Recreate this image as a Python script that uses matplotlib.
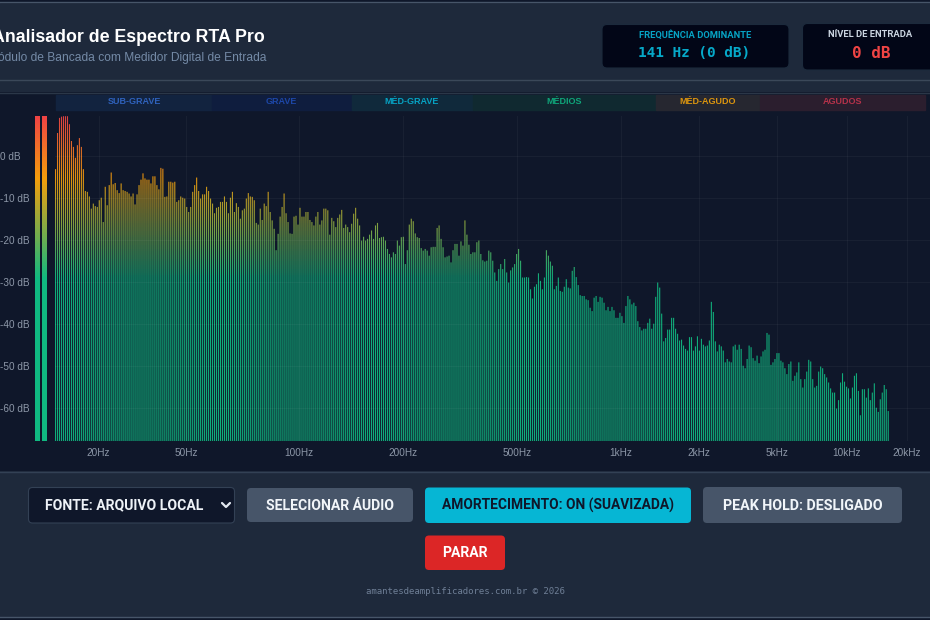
#!/usr/bin/env python3
"""Bancada RTA spectrum screen: dB bars with a vertical colour gradient."""

import matplotlib

matplotlib.use("Agg")
import matplotlib.pyplot as plt  # noqa: E402
import numpy as np  # noqa: E402
from matplotlib.collections import PolyCollection  # noqa: E402
from matplotlib.colors import LinearSegmentedColormap  # noqa: E402
from matplotlib.patches import FancyBboxPatch, Rectangle  # noqa: E402

SPECTRUM_DB = [
    -3.2, 5.4, 9.0, 9.3, 9.4, 9.4, 9.4, 7.5, 3.5, 2.1, -0.5, 2.5, 4.2, 2.1, -3.2, -8.4,
    -8.6, -9.7, -12.6, -11.4, -12.0, -12.2, -10.6, -10.0, -15.8, -7.4, -11.8, -7.0, -4.0, -6.8,
    -6.5, -8.2, -8.9, -6.6, -8.2, -8.4, -8.6, -9.0, -9.7, -9.0, -11.6, -9.2, -7.0, -5.7, -4.2,
    -5.4, -5.7, -5.7, -6.6, -4.9, -4.9, -7.0, -8.0, -2.9, -3.1, -9.8, -9.7, -6.2, -6.2, -6.4,
    -6.2, -11.0, -10.6, -9.7, -10.0, -10.2, -12.2, -13.4, -12.2, -8.6, -7.0, -5.2, -8.4, -10.2,
    -9.2, -9.2, -7.4, -8.4, -10.2, -11.4, -13.7, -12.4, -12.2, -11.0, -11.0, -9.7, -11.0, -13.7,
    -10.0, -8.6, -13.4, -11.3, -12.2, -15.0, -13.0, -12.6, -10.2, -8.9, -9.7, -9.8, -10.6, -16.0,
    -16.4, -12.6, -15.3, -11.4, -12.0, -8.6, -13.4, -15.4, -17.4, -22.5, -18.6, -14.5, -12.2,
    -9.0, -13.7, -15.8, -18.5, -18.6, -14.5, -14.3, -16.4, -12.4, -14.5, -14.5, -13.4, -13.4,
    -15.3, -15.8, -16.6, -14.5, -13.4, -16.4, -15.4, -12.6, -12.6, -13.0, -18.8, -14.8, -15.6,
    -17.0, -14.8, -14.0, -12.9, -17.2, -16.4, -17.0, -18.2, -16.2, -13.8, -12.4, -15.0, -16.6,
    -20.2, -19.3, -20.2, -19.8, -18.8, -17.8, -19.8, -16.6, -16.0, -19.6, -19.4, -19.3, -20.2,
    -22.2, -23.4, -24.2, -23.0, -23.4, -20.2, -21.4, -19.4, -19.3, -25.8, -22.5, -16.4, -15.0,
    -15.6, -18.5, -19.4, -19.6, -22.0, -22.6, -22.2, -22.6, -23.8, -21.8, -21.7, -21.7, -17.2,
    -16.6, -19.8, -21.8, -24.2, -24.0, -23.8, -25.4, -22.5, -21.0, -21.0, -23.8, -20.4, -21.4,
    -15.4, -18.8, -21.2, -23.4, -23.0, -23.0, -20.6, -20.2, -23.4, -24.9, -25.2, -25.0, -22.6,
    -23.0, -25.0, -27.8, -29.8, -27.0, -25.8, -27.0, -24.6, -27.8, -30.2, -27.3, -26.6, -25.8,
    -23.4, -22.2, -25.0, -29.0, -29.0, -28.9, -29.0, -31.8, -34.0, -31.2, -30.6, -28.0, -29.8,
    -31.8, -29.0, -22.5, -23.8, -25.2, -26.2, -31.8, -31.0, -29.0, -32.2, -32.4, -31.2, -29.4,
    -31.4, -31.6, -27.4, -26.5, -28.9, -30.8, -33.2, -33.4, -33.4, -34.2, -34.4, -36.2, -37.0,
    -33.8, -33.4, -34.8, -33.6, -33.8, -35.0, -36.8, -36.0, -37.0, -36.0, -36.8, -38.6, -38.6,
    -37.4, -38.2, -39.8, -35.8, -33.4, -34.2, -35.4, -35.0, -35.8, -39.4, -40.8, -41.6, -41.2,
    -41.2, -39.8, -38.8, -41.2, -40.0, -33.6, -30.2, -31.4, -37.6, -44.2, -43.4, -41.4, -41.4,
    -38.6, -38.6, -41.2, -42.4, -44.0, -43.8, -45.2, -46.0, -46.4, -43.2, -43.2, -46.4, -45.4,
    -43.0, -46.4, -43.6, -45.0, -45.4, -45.2, -44.0, -34.8, -37.2, -44.2, -46.6, -45.0, -45.4,
    -46.4, -49.2, -48.4, -49.0, -49.2, -45.4, -45.0, -46.2, -45.0, -46.0, -50.0, -50.6, -48.4,
    -45.2, -45.6, -48.2, -48.8, -47.6, -49.4, -47.8, -46.6, -46.2, -42.2, -42.6, -49.8, -49.2,
    -48.4, -47.0, -47.0, -48.8, -49.2, -50.6, -52.0, -49.6, -49.0, -53.6, -52.4, -51.6, -49.2,
    -53.2, -55.2, -53.2, -51.4, -48.6, -49.0, -53.2, -55.2, -54.8, -51.4, -50.2, -50.6, -52.0,
    -52.8, -54.0, -55.4, -56.4, -56.4, -60.2, -58.2, -54.0, -51.8, -53.8, -55.0, -55.4, -57.8,
    -55.2, -52.4, -51.8, -56.0, -61.8, -55.6, -55.6, -57.6, -55.4, -58.2, -56.4, -54.2, -60.0,
    -61.0, -58.0, -56.4, -54.6, -55.6, -60.8,
]

DB_TICKS = [0, -10, -20, -30, -40, -50, -60]
DB_LABELS = ["0 dB", "-10 dB", "-20 dB", "-30 dB", "-40 dB", "-50 dB", "-60 dB"]
FREQ_LABELS = ["20Hz", "50Hz", "100Hz", "200Hz", "500Hz", "1kHz", "2kHz", "5kHz", "10kHz", "20kHz"]
FREQ_TICK_PX = [98.5, 186, 299, 403, 517, 621, 699, 777, 847, 907]

BAND_NAMES = ["SUB-GRAVE", "GRAVE", "MÉD-GRAVE", "MÉDIOS", "MÉD-AGUDO", "AGUDOS"]
BAND_EDGES_PX = [56, 212, 351.5, 472.5, 655.5, 760, 925]
BAND_FILLS = ["#12233f", "#0f1d3e", "#10293b", "#102930", "#262730", "#2b1e2e"]
BAND_TEXT = ["#2f62bd", "#1d47a8", "#06a3c4", "#0fa67a", "#dc950e", "#b5324a"]

PAGE = "#1e293b"
CHART = "#0f172a"
MONO = "DejaVu Sans Mono"
ARIAL = "Liberation Sans"

W, H = 930, 620
X0, X1, Y_TOP, Y_BOT = 55.0, 930.0, 116.0, 441.0
BAR_PITCH = 1.9873
PX_PER_DB = 4.2
ZERO_DB_Y = 155.7

RAMP = LinearSegmentedColormap.from_list(
    "rta", [(0, "#10b981"), (0.5, "#10b981"), (0.81, "#f59e0b"), (1, "#ef4444")])


def px(size):
    return size * 0.72


def box(axis, x0, y0, x1, y1, color, edge="none", radius=4):
    axis.add_patch(FancyBboxPatch((x0 + radius, y0 + radius), x1 - x0 - 2 * radius, y1 - y0 - 2 * radius,
                                  boxstyle=f"round,pad={radius},rounding_size={radius}",
                                  facecolor=color, edgecolor=edge, linewidth=0.8))


def draw_page(page):
    page.set_xlim(0, W)
    page.set_ylim(H, 0)
    page.axis("off")
    page.add_patch(Rectangle((0, 0), W, H, color=PAGE))
    page.add_patch(Rectangle((0, 0), W, 1.5, color="#0f172a"))
    page.add_patch(Rectangle((0, 618), W, 2, color="#0f172a"))
    for y, color in [(2, "#475569"), (79.5, "#3b4859"), (617, "#475569")]:
        page.plot([0, W], [y, y], color=color, lw=1)

    page.text(264.5, 37.5, "Analisador de Espectro RTA Pro", family=ARIAL, fontweight="bold",
              fontsize=px(17.8), color="white", ha="right", va="center")
    page.text(266, 58.5, "Módulo de Bancada com Medidor Digital de Entrada", family=ARIAL,
              fontsize=px(12), color="#748aa6", ha="right", va="center")

    box(page, 602, 24.5, 789, 68, "#020617", "#1c2a3c", radius=5)
    page.text(695, 35.5, "FREQUÊNCIA DOMINANTE", family="Roboto", fontweight="bold",
              fontsize=px(9.4), color="#06a3c4", ha="center", va="center")
    page.text(694.5, 53, "141 Hz (0 dB)", family=MONO, fontweight="bold",
              fontsize=px(14.4), color="#06a9c9", ha="center", va="center")
    box(page, 802.5, 23.5, 945, 70, "#020617", "#1c2a3c", radius=5)
    page.text(870.5, 34.5, "NÍVEL DE ENTRADA", family="Roboto", fontweight="bold",
              fontsize=px(9.4), color="#cbd5e1", ha="center", va="center")
    page.text(871, 53, "0 dB", family=MONO, fontweight="bold",
              fontsize=px(16), color="#ef4444", ha="center", va="center")

    page.add_patch(Rectangle((0, 92), W, 379, facecolor=CHART, edgecolor="none"))
    page.plot([0, W], [92.5, 92.5], color="#2b3748", lw=1)
    page.plot([0, W], [471.5, 471.5], color="#334155", lw=1)

    for i, name in enumerate(BAND_NAMES):
        left, right = BAND_EDGES_PX[i], BAND_EDGES_PX[i + 1]
        page.add_patch(Rectangle((left, 94.5), right - left, 15.5, color=BAND_FILLS[i]))
        page.text((left + right) / 2, 102, name, family=ARIAL, fontweight="bold",
                  fontsize=px(9), color=BAND_TEXT[i], ha="center", va="center")

    # Controls row
    box(page, 28.5, 487.5, 234.5, 523, CHART, "#334155")
    page.text(45, 505, "FONTE: ARQUIVO LOCAL", family="Roboto", fontweight="bold",
              fontsize=px(14), color="#eef2f7", ha="left", va="center")
    page.plot([222, 226, 230], [503, 507, 503], color="#e2e8f0", lw=1.6, solid_capstyle="round")
    buttons = [
        (247, 488, 413, 522, "#475569", "#f1f5f9", "SELECIONAR ÁUDIO", 14),
        (425, 487.5, 691, 523, "#06b6d4", "#0f172a", "AMORTECIMENTO: ON (SUAVIZADA)", 13.7),
        (703, 487, 902, 523, "#475569", "#f1f5f9", "PEAK HOLD: DESLIGADO", 14.3),
        (425, 535.5, 505, 570, "#dc2626", "#ffffff", "PARAR", 14),
    ]
    for x0, y0, x1, y1, fill, ink, label, size in buttons:
        box(page, x0, y0, x1, y1, fill)
        page.text((x0 + x1) / 2, (y0 + y1) / 2 + 0.5, label, family="Roboto", fontweight="bold",
                  fontsize=px(size), color=ink, ha="center", va="center")
    page.text(465, 591, "amantesdeamplificadores.com.br © 2026", family=MONO,
              fontsize=px(9), color="#6f7f96", ha="center", va="center")


def draw_spectrum(axis):
    values = np.array(SPECTRUM_DB)
    y_low = (ZERO_DB_Y - Y_BOT) / PX_PER_DB
    y_high = (ZERO_DB_Y - Y_TOP) / PX_PER_DB
    axis.set_xlim(0, (X1 - X0) / BAR_PITCH)
    axis.set_ylim(y_low, y_high)
    axis.patch.set_visible(False)

    # each bar is a stack of 2 px slices so the fill can follow the ramp
    step = 2 / PX_PER_DB
    width = 1.1 / BAR_PITCH
    verts, colors = [], []
    for i, value in enumerate(values):
        edges = np.append(np.arange(y_low, value, step), value)
        for low, high in zip(edges[:-1], edges[1:]):
            verts.append([(i, low), (i + width, low), (i + width, high), (i, high)])
            colors.append(RAMP(((low + high) / 2 - y_low) / (y_high - y_low), alpha=0.93))
    bars = PolyCollection(verts, facecolors=colors, edgecolors="none", linewidths=0, zorder=2)
    bars.set_snap(False)
    axis.add_collection(bars)

    axis.set_yticks(DB_TICKS)
    axis.set_yticklabels(DB_LABELS, family=ARIAL, fontsize=px(10), color="#8d97a8", ha="left")
    axis.set_xticks([(p - X0) / BAR_PITCH for p in FREQ_TICK_PX])
    axis.set_xticklabels(FREQ_LABELS, family=ARIAL, fontsize=px(10), color="#8d97a8")
    axis.tick_params(axis="y", length=0, pad=px(55.5))
    axis.tick_params(axis="x", length=0, pad=px(7))
    axis.grid(True, color="white", alpha=0.04, linewidth=0.72, zorder=3)
    axis.set_axisbelow(False)
    for spine in axis.spines.values():
        spine.set_visible(False)


def draw_meters(page):
    column = np.linspace(1, 0, 325).reshape(-1, 1)
    for left in (35, 42):
        page.imshow(column, cmap=RAMP, vmin=0, vmax=1, aspect="auto", interpolation="nearest",
                    extent=[left, left + 5, Y_BOT, Y_TOP], zorder=3)
    page.set_xlim(0, W)
    page.set_ylim(H, 0)


def main():
    figure = plt.figure(figsize=(W / 100, H / 100), dpi=100, facecolor=PAGE)
    page = figure.add_axes([0, 0, 1, 1])
    draw_page(page)
    draw_meters(page)
    axis = figure.add_axes([X0 / W, 1 - Y_BOT / H, (X1 - X0) / W, (Y_BOT - Y_TOP) / H])
    draw_spectrum(axis)
    figure.savefig("out.png", dpi=100)


if __name__ == "__main__":
    main()
